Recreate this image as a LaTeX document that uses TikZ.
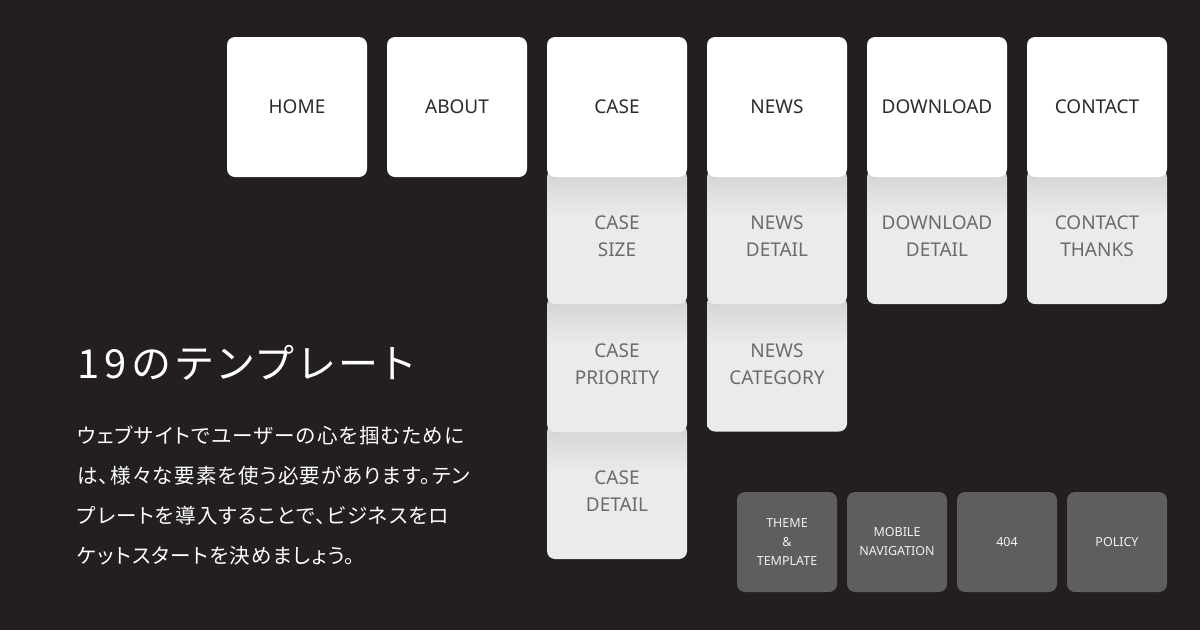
\documentclass[tikz,border=0pt]{standalone}
\usepackage{fontspec}
\setmainfont{Noto Sans}
\newfontfamily\jptitle[RawFeature=+palt,LetterSpace=13]{Noto Sans CJK JP}
\newfontfamily\jpbody[RawFeature=+palt,LetterSpace=6.2]{Noto Sans CJK JP}
\usepackage{xcolor}

\definecolor{pagebg}{HTML}{221F1E}
\definecolor{toptext}{HTML}{2B2B2B}
\definecolor{cardgray}{HTML}{EBEBEB}
\definecolor{cardshadow}{HTML}{D3D3D3}
\definecolor{subtext}{HTML}{6B6B6B}
\definecolor{minigray}{HTML}{5F5D5E}
\definecolor{minitext}{HTML}{F0F0F0}

\pgfdeclareverticalshading{cardshade}{100bp}{color(0bp)=(cardgray); color(25bp)=(cardgray);
    color(57bp)=(cardgray); color(75bp)=(cardshadow); color(100bp)=(cardshadow)}

\begin{document}
\begin{tikzpicture}[
    x=1pt,y=-1pt,
    topcard/.style={fill=white,rounded corners=8pt,inner sep=0pt,
        minimum width=140pt,minimum height=140pt,text=toptext,
        font=\fontsize{19}{23}\selectfont},
    subcard/.style={shading=cardshade,rounded corners=8pt,inner sep=0pt,
        minimum width=140pt,minimum height=135pt,align=center,text=subtext,
        font=\fontsize{19}{27}\selectfont},
    minicard/.style={fill=minigray,rounded corners=8pt,inner sep=0pt,
        minimum width=100pt,minimum height=100pt,align=center,text=minitext,
        font=\fontsize{12.5}{19}\selectfont},
    headline/.style={anchor=base west,inner sep=0pt,text=white,
        font=\jptitle\fontsize{40}{44}\selectfont},
    bodyline/.style={anchor=base west,inner sep=0pt,text=white,
        font=\jpbody\fontsize{20.5}{24}\selectfont}
]
    \fill[pagebg] (0,0) rectangle (1200,630);

    % stacked detail pages, lowest first
    \node[subcard] (casedetail) at (617,491.5) {CASE\\DETAIL};
    \node[subcard] (casepriority) at (617,364.5) {CASE\\PRIORITY};
    \node[subcard] (casesize) at (617,236.5) {CASE\\SIZE};
    \node[subcard] (newscategory) at (777,364) {NEWS\\CATEGORY};
    \node[subcard] (newsdetail) at (777,236.5) {NEWS\\DETAIL};
    \node[subcard] (downloaddetail) at (937,236.5) {DOWNLOAD\\DETAIL};
    \node[subcard] (contactthanks) at (1097,236.5) {CONTACT\\THANKS};

    % main pages
    \node[topcard] (home) at (297,107) {HOME};
    \node[topcard] (about) at (457,107) {ABOUT};
    \node[topcard] (case) at (617,107) {CASE};
    \node[topcard] (news) at (777,107) {NEWS};
    \node[topcard] (download) at (937,107) {DOWNLOAD};
    \node[topcard] (contact) at (1097,107) {CONTACT};

    % common parts
    \node[minicard] (theme) at (787,542) {THEME\\\&\\TEMPLATE};
    \node[minicard] (mobile) at (897,542) {MOBILE\\NAVIGATION};
    \node[minicard] (notfound) at (1007,542) {404};
    \node[minicard] (policy) at (1117,542) {POLICY};

    \node[headline] (title) at (77,378) {19のテンプレート};
    \foreach \row/\txt in {0/ウェブサイトでユーザーの心を掴むために,
        1/は、様々な要素を使う必要があります。テン,
        2/プレートを導入することで、ビジネスをロ,
        3/ケットスタートを決めましょう。}
        \node[bodyline] (body\row) at (77,443+40*\row) {\txt};
\end{tikzpicture}
\end{document}
